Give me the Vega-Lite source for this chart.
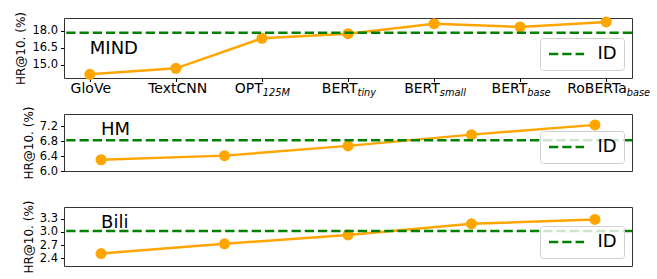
{
  "$schema": "https://vega.github.io/schema/vega-lite/v6.json",
  "padding": {"left": 14, "top": 10, "right": 0, "bottom": 0},
  "background": "white",
  "datasets": {
    "mind": [
      {"model": "GloVe", "hr": 14.15},
      {"model": "TextCNN", "hr": 14.68},
      {"model": "OPT_125M", "hr": 17.33},
      {"model": "BERT_tiny", "hr": 17.74},
      {"model": "BERT_small", "hr": 18.62},
      {"model": "BERT_base", "hr": 18.33},
      {"model": "RoBERTa_base", "hr": 18.77}
    ],
    "mind_id": [{"series": "ID", "hr": 17.82}],
    "mind_label": [{"model": "GloVe", "name": "MIND", "hr": 15.94}],
    "hm": [
      {"model": "ResNet18", "hr": 6.30},
      {"model": "ResNet34", "hr": 6.41},
      {"model": "ResNet50", "hr": 6.67},
      {"model": "Swin-T", "hr": 6.97},
      {"model": "Swin-B", "hr": 7.23}
    ],
    "hm_id": [{"series": "ID", "hr": 6.82}],
    "hm_label": [{"model": "ResNet18", "name": "HM", "hr": 6.96}],
    "bili": [
      {"model": "ResNet18", "hr": 2.51},
      {"model": "ResNet34", "hr": 2.73},
      {"model": "ResNet50", "hr": 2.93},
      {"model": "Swin-T", "hr": 3.18},
      {"model": "Swin-B", "hr": 3.28}
    ],
    "bili_id": [{"series": "ID", "hr": 3.02}],
    "bili_label": [{"model": "ResNet18", "name": "Bili", "hr": 3.08}]
  },
  "spacing": 36,
  "bounds": "flush",
  "resolve": {"scale": {"color": "independent"}, "legend": {"color": "independent"}},
  "vconcat": [
    {
      "width": 568,
      "height": 60,
      "resolve": {"axis": {"x": "independent"}},
      "layer": [
        {
          "data": {"name": "mind"},
          "mark": {"type": "line", "color": "#FFA500", "strokeWidth": 2.5},
          "encoding": {
            "x": {"field": "model", "type": "ordinal", "sort": null,
              "scale": {"type": "point", "padding": 0.3},
              "axis": {"title": null, "labelExpr": "split(datum.value,'_')[0]", "labelAlign": "right",
                "labelOffset": {"condition": [
                  {"test": "datum.value=='GloVe'", "value": 20.7},
                  {"test": "datum.value=='TextCNN'", "value": 30.8},
                  {"test": "datum.value=='OPT_125M'", "value": 0.4},
                  {"test": "datum.value=='BERT_tiny'", "value": 9.05},
                  {"test": "datum.value=='BERT_small'", "value": 5.3},
                  {"test": "datum.value=='BERT_base'", "value": 6.65},
                  {"test": "datum.value=='RoBERTa_base'", "value": 20.1}], "value": 0}}},
            "y": {"field": "hr", "type": "quantitative",
              "scale": {"domain": [13.83, 19.12], "nice": false, "zero": false},
              "axis": {"title": "HR@10. (%)", "values": [15.0, 16.5, 18.0], "tickCount": 10, "format": ".1f"}}
          }
        },
        {
          "data": {"name": "mind"},
          "mark": {"type": "circle", "color": "#FFA500", "opacity": 1, "size": 121},
          "encoding": {
            "x": {"field": "model", "type": "ordinal", "sort": null,
              "scale": {"type": "point", "padding": 0.3},
              "axis": {"title": null, "orient": "bottom",
                "labelExpr": "length(split(datum.value,'_'))>1 ? split(datum.value,'_')[1] : ''",
                "labelAlign": "left", "labelFontStyle": "italic", "labelFontSize": 9.8, "labelPadding": 13.7,
                "tickOpacity": 0,
                "labelOffset": {"condition": [
                  {"test": "datum.value=='GloVe'", "value": 20.7},
                  {"test": "datum.value=='TextCNN'", "value": 30.8},
                  {"test": "datum.value=='OPT_125M'", "value": 0.4},
                  {"test": "datum.value=='BERT_tiny'", "value": 9.05},
                  {"test": "datum.value=='BERT_small'", "value": 5.3},
                  {"test": "datum.value=='BERT_base'", "value": 6.65},
                  {"test": "datum.value=='RoBERTa_base'", "value": 20.1}], "value": 0}}},
            "y": {"field": "hr", "type": "quantitative",
              "scale": {"domain": [13.83, 19.12], "nice": false, "zero": false}}
          }
        },
        {
          "data": {"name": "mind_id"},
          "mark": {"type": "rule", "strokeWidth": 2.5, "strokeDash": [9.25, 4]},
          "encoding": {
            "y": {"field": "hr", "type": "quantitative",
              "scale": {"domain": [13.83, 19.12], "nice": false, "zero": false}},
            "color": {"field": "series", "type": "nominal", "scale": {"range": ["#008000"]},
              "legend": {"title": null}}
          }
        },
        {
          "data": {"name": "mind_label"},
          "mark": {"type": "text", "align": "left", "baseline": "alphabetic", "fontSize": 18, "font": "DejaVu Sans", "color": "black"},
          "encoding": {
            "x": {"field": "model", "type": "ordinal", "sort": null, "scale": {"type": "point", "padding": 0.3}, "axis": null},
            "y": {"field": "hr", "type": "quantitative",
              "scale": {"domain": [13.83, 19.12], "nice": false, "zero": false}},
            "text": {"field": "name"}
          }
        }
      ]
    },
    {
      "width": 568,
      "height": 57,
      "layer": [
        {
          "data": {"name": "hm"},
          "mark": {"type": "line", "color": "#FFA500", "strokeWidth": 2.5, "point": {"type": "circle", "color": "#FFA500", "opacity": 1, "size": 121}},
          "encoding": {
            "x": {"field": "model", "type": "ordinal", "sort": null,
              "scale": {"type": "point", "padding": 0.3}, "axis": {"title": null}},
            "y": {"field": "hr", "type": "quantitative",
              "scale": {"domain": [6.0, 7.52], "nice": false, "zero": false},
              "axis": {"title": "HR@10. (%)", "values": [6.0, 6.4, 6.8, 7.2], "tickCount": 10, "format": ".1f"}}
          }
        },
        {
          "data": {"name": "hm_id"},
          "mark": {"type": "rule", "strokeWidth": 2.5, "strokeDash": [9.25, 4]},
          "encoding": {
            "y": {"field": "hr", "type": "quantitative",
              "scale": {"domain": [6.0, 7.52], "nice": false, "zero": false}},
            "color": {"field": "series", "type": "nominal", "scale": {"range": ["#008000"]},
              "legend": {"title": null}}
          }
        },
        {
          "data": {"name": "hm_label"},
          "mark": {"type": "text", "align": "left", "baseline": "alphabetic", "fontSize": 18, "font": "DejaVu Sans", "color": "black"},
          "encoding": {
            "x": {"field": "model", "type": "ordinal", "sort": null, "scale": {"type": "point", "padding": 0.3}, "axis": null},
            "y": {"field": "hr", "type": "quantitative",
              "scale": {"domain": [6.0, 7.52], "nice": false, "zero": false}},
            "text": {"field": "name"}
          }
        }
      ]
    },
    {
      "width": 568,
      "height": 59,
      "layer": [
        {
          "data": {"name": "bili"},
          "mark": {"type": "line", "color": "#FFA500", "strokeWidth": 2.5, "point": {"type": "circle", "color": "#FFA500", "opacity": 1, "size": 121}},
          "encoding": {
            "x": {"field": "model", "type": "ordinal", "sort": null,
              "scale": {"type": "point", "padding": 0.3}, "axis": {"title": null}},
            "y": {"field": "hr", "type": "quantitative",
              "scale": {"domain": [2.23, 3.56], "nice": false, "zero": false},
              "axis": {"title": "HR@10. (%)", "values": [2.4, 2.7, 3.0, 3.3], "tickCount": 10, "format": ".1f"}}
          }
        },
        {
          "data": {"name": "bili_id"},
          "mark": {"type": "rule", "strokeWidth": 2.5, "strokeDash": [9.25, 4]},
          "encoding": {
            "y": {"field": "hr", "type": "quantitative",
              "scale": {"domain": [2.23, 3.56], "nice": false, "zero": false}},
            "color": {"field": "series", "type": "nominal", "scale": {"range": ["#008000"]},
              "legend": {"title": null}}
          }
        },
        {
          "data": {"name": "bili_label"},
          "mark": {"type": "text", "align": "left", "baseline": "alphabetic", "fontSize": 18, "font": "DejaVu Sans", "color": "black"},
          "encoding": {
            "x": {"field": "model", "type": "ordinal", "sort": null, "scale": {"type": "point", "padding": 0.3}, "axis": null},
            "y": {"field": "hr", "type": "quantitative",
              "scale": {"domain": [2.23, 3.56], "nice": false, "zero": false}},
            "text": {"field": "name"}
          }
        }
      ]
    }
  ],
  "config": {
    "font": "DejaVu Sans",
    "view": {"stroke": "#333333", "strokeWidth": 1},
    "axis": {"domain": false, "grid": false, "tickColor": "black", "tickSize": 3.5, "tickWidth": 1,
      "labelColor": "black", "labelFont": "DejaVu Sans", "titleFont": "DejaVu Sans", "titleColor": "black", "titleFontWeight": "normal"},
    "axisX": {"labelAngle": 0, "labelFontSize": 14, "labelBaseline": "alphabetic", "labelPadding": 11, "labelOverlap": false, "labelFlush": false},
    "axisY": {"labelFontSize": 11.5, "labelPadding": 3, "titleFontSize": 12, "titlePadding": 4, "labelOverlap": false, "labelFlush": false},
    "legend": {"orient": "bottom-right", "offset": 8, "symbolType": "M-1,0H4", "symbolStrokeWidth": 2.5, "symbolDash": [9.25, 4],
      "symbolSize": 196, "labelFontSize": 18, "labelFont": "DejaVu Sans", "labelColor": "black", "labelOffset": 32.5, "padding": 7,
      "cornerRadius": 3, "strokeColor": "#d0d0d0", "fillColor": "rgba(255,255,255,0.8)"}
  }
}
